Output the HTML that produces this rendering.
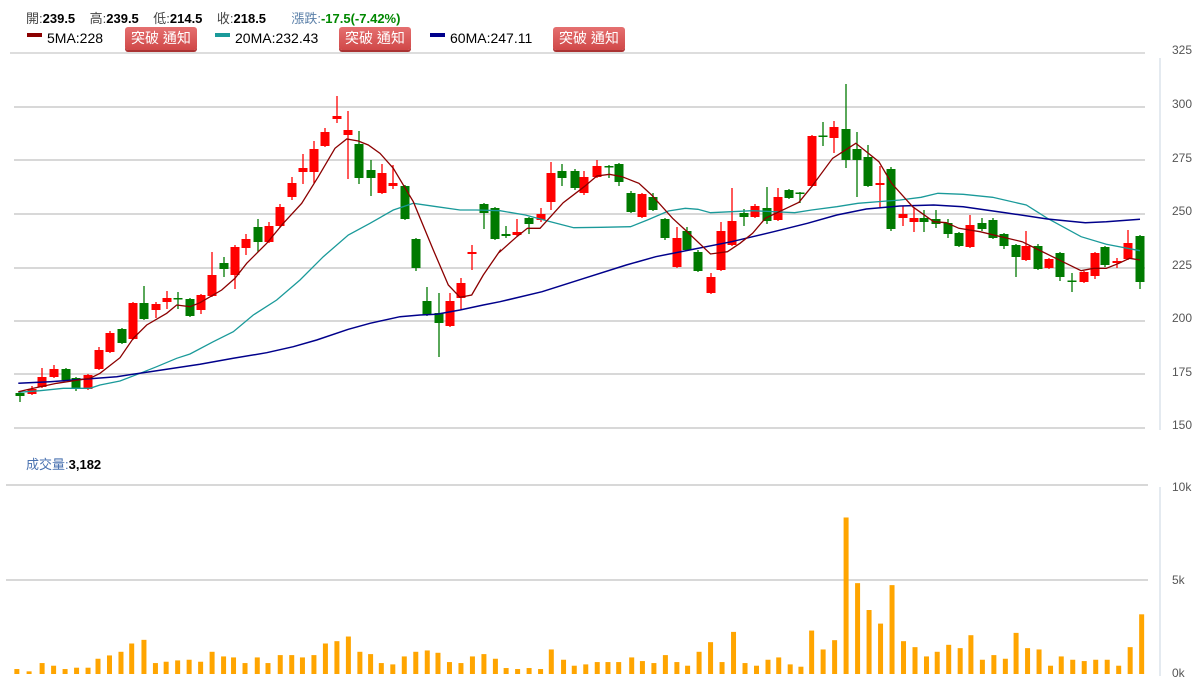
<!DOCTYPE html>
<html><head><meta charset="utf-8"><style>
body{margin:0;background:#fff;width:1198px;height:681px;overflow:hidden;font-family:"Liberation Sans","Noto Sans CJK TC",sans-serif;}
.t{position:absolute;font-size:13px;color:#000;white-space:nowrap}
.lb{color:#444}
.btn{position:absolute;top:27px;width:72px;height:23px;background:linear-gradient(#e57070,#d04848);border-radius:3px;color:#fff;font-size:14px;line-height:23px;text-align:center;box-shadow:0 2px 0 #a33;font-family:"Liberation Sans","Noto Sans CJK TC",sans-serif}
.sw{position:absolute;top:33px;width:15px;height:4px}
</style></head><body>
<div class="t" style="left:26px;top:8px"><span class="lb">開:</span><b>239.5</b>&nbsp;&nbsp;&nbsp;&nbsp;<span class="lb">高:</span><b>239.5</b>&nbsp;&nbsp;&nbsp;&nbsp;<span class="lb">低:</span><b>214.5</b>&nbsp;&nbsp;&nbsp;&nbsp;<span class="lb">收:</span><b>218.5</b>&nbsp;&nbsp;&nbsp;&nbsp;&nbsp;&nbsp;&nbsp;<span style="color:#5a7fa8">漲跌:</span><b style="color:#080">-17.5(-7.42%)</b></div>
<div class="sw" style="left:27px;background:#8b0000"></div><div class="t" style="left:47px;top:30px;font-size:14px">5MA:228</div>
<div class="btn" style="left:125px">突破 通知</div>
<div class="sw" style="left:215px;background:#1a9a9a"></div><div class="t" style="left:235px;top:30px;font-size:14px">20MA:232.43</div>
<div class="btn" style="left:339px">突破 通知</div>
<div class="sw" style="left:430px;background:#00008b"></div><div class="t" style="left:450px;top:30px;font-size:14px">60MA:247.11</div>
<div class="btn" style="left:553px">突破 通知</div>
<div class="t" style="left:26px;top:454px"><span style="color:#4a72b0">成交量:</span><b>3,182</b></div>
<svg id="s" width="1198" height="681" style="position:absolute;left:0;top:0"></svg>
<script>
var s=document.getElementById('s'),h='';
h+='<line x1="10" y1="53" x2="1145" y2="53" stroke="#ddd" stroke-width="2"/>';
[107,160,214,268,321,374,428].forEach(function(y){h+='<line x1="14" y1="'+y+'" x2="1145" y2="'+y+'" stroke="#ccc" stroke-width="1.5"/>';});
[485,580].forEach(function(y){h+='<line x1="6" y1="'+y+'" x2="1148" y2="'+y+'" stroke="#ccc" stroke-width="1.5"/>';});
h+='<line x1="1160" y1="58" x2="1160" y2="430" stroke="#c8d4e0"/><line x1="1160" y1="487" x2="1160" y2="676" stroke="#c8d4e0"/>';
var pl=[[325,50],[300,104],[275,158],[250,211],[225,265],[200,318],[175,372],[150,425]];
pl.forEach(function(p){h+='<text x="1172" y="'+(p[1]+4)+'" font-size="12" fill="#555" font-family="Liberation Sans">'+p[0]+'</text>';});
[['10k',487],['5k',580],['0k',673]].forEach(function(p){h+='<text x="1172" y="'+(p[1]+4)+'" font-size="12" fill="#555" font-family="Liberation Sans">'+p[0]+'</text>';});
var vz=[[22,658],[38,665],[55,640],[70,648],[85,658],[100,654],[115,654],[128,627],[143,617],[158,606],[172,581],[188,570],[203,640],[217,636],[232,632],[247,630],[262,636],[277,606],[292,620],[305,623],[320,640],[336,623],[350,640],[366,616],[381,616],[395,623],[410,616],[425,581],[440,574],[455,560],[470,606],[484,613],[498,640],[513,644],[528,620],[543,606],[558,602],[572,609],[587,637],[602,640],[617,620],[632,613],[647,627],[661,655],[676,658],[691,655],[706,658],[720,599],[736,630],[750,648],[765,644],[780,637],[794,637],[808,637],[825,623],[839,634],[854,640],[869,616],[884,637],[898,648],[913,606],[928,577],[943,637],[958,546],[973,640],[988,648],[1003,630],[1017,623],[1032,644],[1046,651],[1060,542],[1075,599],[1090,571],[1105,201],[1120,399],[1135,480],[1150,521],[1165,405],[1180,574],[1195,592],[1210,620],[1224,606],[1239,585],[1254,595],[1268,556],[1283,630],[1298,616],[1313,627],[1327,549],[1342,595],[1357,599],[1372,648],[1386,620],[1401,630],[1416,634],[1431,630],[1446,630],[1461,648],[1476,592],[1491,493]];
vz.forEach(function(v){var x=v[0]/1.306,y=674-(673-v[1])*0.3316;h+='<rect x="'+(x-2.5)+'" y="'+y+'" width="5" height="'+(674-y)+'" fill="#ffa500"/>';});
var R='#ff0000',G='#007a00';
var c=[[20,393,396,G,391,402],[32,389,394,R,386,395],[42,377,387,R,368,388],[54,369,377,R,365,378],[66,369,380,G,368,381],[76,378,389,G,377,391],[88,375,389,R,374,390],[99,350,369,R,347,370],[110,333,352,R,331,353],[122,329,343,G,328,344],[133,303,339,R,302,340],[144,303,319,G,286,320],[156,304,310,R,302,318],[167,298,302,R,291,309],[178,298,299.5,G,292,309],[190,299,316,G,298,317],[201,295,310,R,294,314],[212,275,296,R,252,297],[224,263,269,G,257,277],[235,247,275,R,245,289],[246,239,248,R,234,255],[258,227,242,G,219,252],[269,226,242,R,222,243],[280,207,226,R,204,227],[292,183,197,R,177,200],[303,168,172,R,154,184],[314,149,172,R,141,183],[325,132,146,R,128,147],[337,116,119,R,96,123],[348,130,135,R,111,179],[359,144,178,G,131,184],[371,170,178,G,160,196],[382,173,193,R,164,194],[393,183,186,R,165,189],[405,186,219,G,185,220],[416,239,268,G,238,271],[427,301,315,G,287,316],[439,313,323,G,293,357],[450,301,326,R,293,327],[461,283,298,R,278,309],[472,252,254,R,245,270],[484,204,213,G,203,229],[495,208,239,G,207,240],
[506,234,236,G,226,238],[517,232,235,R,219,236],[529,218,224,G,217,234],[541,214,220,R,208,222],[551,173,202,R,162,210],[562,171,178,G,164,186],[575,171,188,G,169,190],[584,177,193,R,171,195],[597,166,177,R,160,178],[609,166,167,G,165,178],[619,164,182,G,163,186],[631,193,212,G,191,213],[642,194,217,R,193,218],[653,197,210,G,193,211],[665,219,238,G,218,240],[677,238,267,R,227,268],[687,231,250,G,227,251],[698,252,271,G,250,272],[711,277,293,R,273,294],[721,231,270,R,222,271],[732,221,245,R,188,246],[744,213,217,G,209,226],[755,206,217,R,204,218],[767,208,221,G,187,224],[778,197,220,R,188,221],[789,190,198,G,189,199],[800,192.5,194,G,192,203],[812,136,186,R,135,187],[823,135.5,137,G,122,146],[834,127,138,R,121,153],[846,129,160,G,84,168],[857,149,160,G,132,197],[868,157,186,G,145,187],[880,183,185,R,166,207],[891,169,229,G,167,231],[903,214,218,R,206,226],[914,218,222,R,208,232],[924,218,222,G,210,232],[936,219,224,G,210,228],[948,223,234,G,219,238],[959,233,246,G,232,247],[970,225,247,R,215,248],[982,223,229,G,218,231],[993,220,238,G,218,239],[1004,234,246,G,233,249],[1016,245,257,G,244,277],[1026,246,260,R,231,261],[1038,246,269,G,244,270],[1049,259,268,R,258,269],[1060,253,277,G,252,281],[1072,280.5,282,G,273,292],[1084,272,282,R,271,283],[1095,253,276,R,252,279],[1105,247,265,G,246,267],[1117,261,263,R,258,268],[1128,243,259,R,230,260],[1140,236,282,G,235,289]];
c.forEach(function(k){h+='<line x1="'+k[0]+'" y1="'+k[4]+'" x2="'+k[0]+'" y2="'+k[5]+'" stroke="'+k[3]+'" stroke-width="1.3"/>';h+='<rect x="'+(k[0]-4.5)+'" y="'+k[1]+'" width="9" height="'+Math.max(1.5,k[2]-k[1])+'" fill="'+k[3]+'"/>';});
function line(a,b,col,w){var p=[];a.forEach(function(q){p.push((q[0]/3).toFixed(1)+','+(80+q[1]/3).toFixed(1));});b.forEach(function(q){p.push((500+q[0]/2.375).toFixed(1)+','+(80+q[1]/3).toFixed(1));});h+='<polyline points="'+p.join(' ')+'" fill="none" stroke="'+col+'" stroke-width="'+w+'"/>';}
line([[55,937],[120,932],[190,925],[270,925],[300,915],[360,903],[420,880],[470,860],[530,835],[570,822],[640,785],[700,755],[760,705],[830,660],[900,600],[970,530],[1045,465],[1110,430],[1180,390],[1240,370],[1310,380],[1380,390],[1430,390],[1500,392]],[[0,392],[60,405],[120,425],[175,443],[240,442],[310,440],[350,420],[400,393],[440,385],[470,388],[500,398],[600,392],[700,398],[740,390],[800,380],[850,370],[950,360],[1000,352],[1040,340],[1100,343],[1170,352],[1250,375],[1300,415],[1380,470],[1440,493],[1520,512]],'#1a9a9a',1.3);
line([[55,910],[150,905],[250,898],[350,890],[450,875],[600,853],[700,835],[800,818],[880,800],[950,780],[1045,748],[1110,730],[1200,710],[1260,705],[1310,703],[1380,690],[1450,675],[1500,665]],[[0,665],[100,635],[200,595],[300,555],[370,530],[450,510],[550,485],[650,455],[730,430],[800,405],[870,387],[950,378],[1030,375],[1100,380],[1200,398],[1300,417],[1390,428],[1440,425],[1520,418]],'#00008b',1.5);
line([[55,935],[100,925],[170,910],[270,895],[300,880],[360,833],[400,775],[440,735],[500,700],[530,675],[570,680],[600,668],[665,630],[705,595],[740,550],[800,490],[850,430],[905,370],[955,290],[1005,205],[1040,177],[1075,183],[1105,195],[1140,220],[1180,265],[1240,365],[1300,510],[1345,615],[1380,652],[1415,645],[1450,585],[1500,512]],[[0,515],[40,470],[65,445],[95,445],[150,368],[200,320],[230,288],[260,283],[290,290],[330,310],[360,345],[410,415],[440,450],[500,522],[540,515],[570,490],[600,460],[630,415],[680,385],[710,367],[740,320],[790,235],[845,190],[900,245],[930,310],[980,380],[1030,425],[1060,428],[1090,445],[1140,455],[1190,470],[1240,485],[1280,510],[1320,535],[1380,572],[1410,565],[1440,565],[1470,550],[1495,535],[1520,540]],'#8b0000',1.3);
s.innerHTML=h;
</script>
</body></html>
